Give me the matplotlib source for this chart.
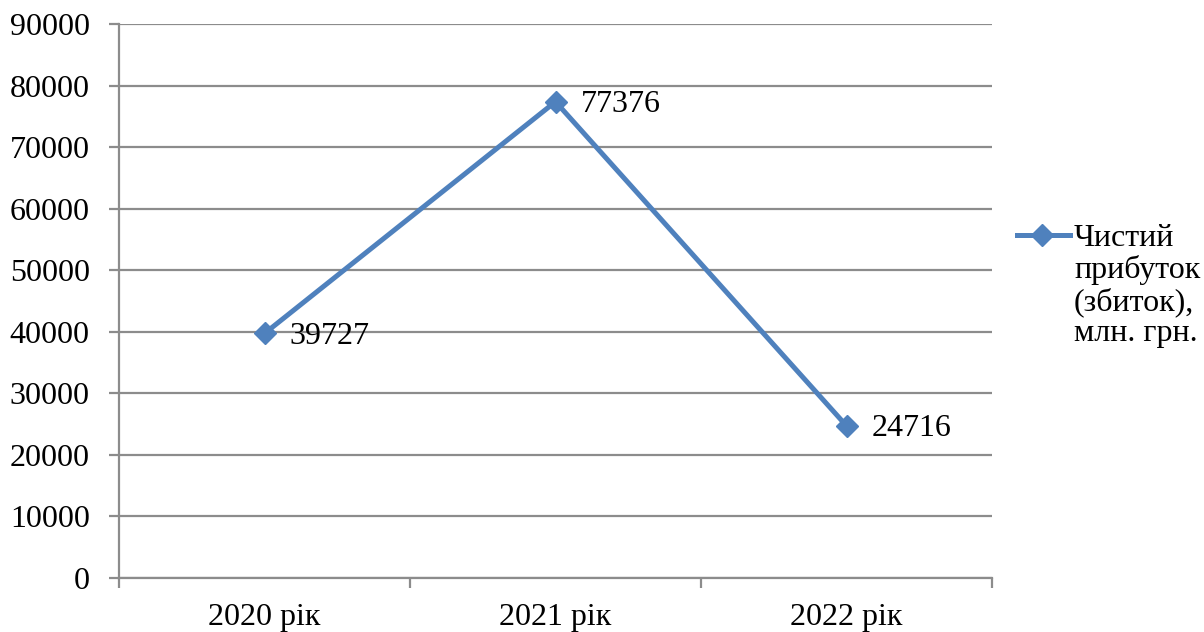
import matplotlib
matplotlib.use('Agg')
import matplotlib.pyplot as plt
from matplotlib.lines import Line2D

# net profit (loss), mln UAH
years = ['2020 рік', '2021 рік', '2022 рік']
profit = [39727, 77376, 24716]
series_lines = ['Чистий', 'прибуток', '(збиток),', 'млн. грн.']

plt.rcParams['font.family'] = ['Liberation Serif', 'DejaVu Serif']

W, H = 1204, 632
fig = plt.figure(figsize=(W / 100, H / 100), dpi=100)
ax = fig.add_axes([119 / W, 1 - 578 / H, (992 - 119) / W, (578 - 24) / H])

blue = '#4F81BD'
grid = '#8C8C8C'
x = [i + 0.5 for i in range(len(years))]
ax.plot(x, profit, color=blue, lw=3.6, marker='D', ms=11, zorder=3, clip_on=False)

for xi, v in zip(x, profit):
    ax.annotate(str(v), (xi, v), xytext=(18, -2), textcoords='offset points',
                ha='left', va='center', fontsize=23, zorder=4)

ax.set_xlim(0, 3)
ax.set_ylim(0, 90000)
ax.set_yticks(range(0, 90001, 10000))
ax.set_yticklabels([str(t) for t in range(0, 90001, 10000)], fontsize=23)
ax.yaxis.grid(True, color=grid, lw=1.6)
ax.set_axisbelow(True)

ax.set_xticks([0, 1, 2, 3])
ax.set_xticklabels([])
ax.set_xticks(x, minor=True)
ax.set_xticklabels(years, minor=True, fontsize=23)
ax.tick_params(axis='x', which='minor', length=0, pad=18)
ax.tick_params(axis='x', which='major', length=7, width=1.6, color=grid)
ax.tick_params(axis='y', length=7, width=1.6, color=grid, pad=14)

for side in ['top', 'right']:
    ax.spines[side].set_visible(False)
for side in ['left', 'bottom']:
    ax.spines[side].set_color(grid)
    ax.spines[side].set_linewidth(1.6)

# legend drawn by hand: sample line with marker and four text lines
fig.add_artist(Line2D([1017 / W, 1070 / W], [1 - 235 / H] * 2, color=blue, lw=3.6))
fig.add_artist(Line2D([1042 / W], [1 - 235 / H], color=blue, marker='D', ms=11))
for i, s in enumerate(series_lines):
    fig.text(1074 / W, 1 - (239 + 31.5 * i) / H, s, fontsize=23,
             ha='left', va='center')

fig.savefig('out.png', dpi=100)
